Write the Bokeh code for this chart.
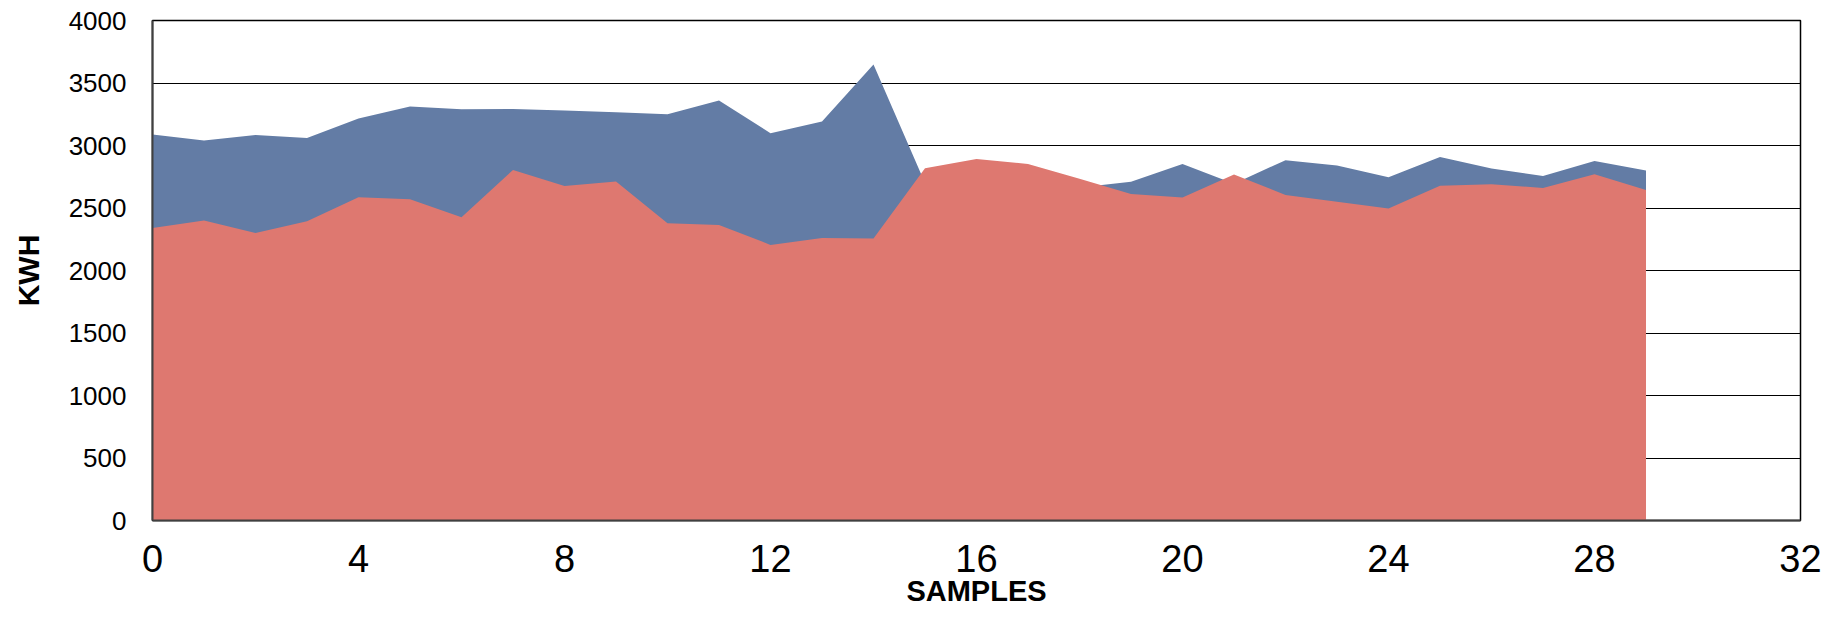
from bokeh.plotting import figure
from bokeh.models import Range1d, FixedTicker
from bokeh.embed import file_html
from bokeh.resources import INLINE

samples = list(range(30))
series_blue = [3088, 3040, 3085, 3061, 3216, 3312, 3291, 3293, 3280, 3267,
               3251, 3360, 3099, 3192, 3648, 2700, 2690, 2680, 2665, 2710,
               2853, 2695, 2883, 2840, 2747, 2909, 2816, 2757, 2877, 2800]
series_red = [2341, 2400, 2301, 2395, 2587, 2571, 2427, 2805, 2677, 2712,
              2379, 2365, 2205, 2261, 2256, 2819, 2893, 2853, 2734, 2612,
              2584, 2768, 2605, 2550, 2496, 2678, 2691, 2661, 2771, 2645]
x_ticks = [0, 4, 8, 12, 16, 20, 24, 28, 32]
y_ticks = [0, 500, 1000, 1500, 2000, 2500, 3000, 3500, 4000]

FONT = "Liberation Sans"

p = figure(width=1825, height=611, output_backend="svg", toolbar_location=None,
           x_range=Range1d(0, 32), y_range=Range1d(0, 4000),
           min_border_left=152, min_border_right=25, min_border_top=20,
           min_border_bottom=91)

p.varea(x=samples, y1=[0] * len(samples), y2=series_blue, fill_color="#637CA5")
p.varea(x=samples, y1=[0] * len(samples), y2=series_red, fill_color="#DE7870")

p.outline_line_color = "black"
p.outline_line_width = 1.5

p.xgrid.grid_line_color = None
p.ygrid.grid_line_color = "black"
p.ygrid.grid_line_width = 1
p.ygrid.ticker = FixedTicker(ticks=y_ticks)

p.xaxis.ticker = FixedTicker(ticks=x_ticks)
p.yaxis.ticker = FixedTicker(ticks=y_ticks)
for ax in (p.xaxis[0], p.yaxis[0]):
    ax.major_tick_line_color = None
    ax.minor_tick_line_color = None
    ax.axis_line_color = "#404040"
    ax.axis_line_width = 2
    ax.major_label_text_font = FONT
    ax.major_label_text_color = "black"
    ax.axis_label_text_font = FONT
    ax.axis_label_text_font_style = "bold"
    ax.axis_label_text_color = "black"

p.xaxis.major_label_text_font_size = "38px"
p.xaxis.major_label_standoff = 18
p.xaxis.axis_label = "SAMPLES"
p.xaxis.axis_label_text_font_size = "29px"
p.xaxis.axis_label_standoff = 0

p.yaxis.major_label_text_font_size = "26px"
p.yaxis.major_label_standoff = 20
p.yaxis.axis_label = "KWH"
p.yaxis.axis_label_text_font_size = "30px"
p.yaxis.axis_label_standoff = 21

open("out.html", "w").write(file_html(p, INLINE))
